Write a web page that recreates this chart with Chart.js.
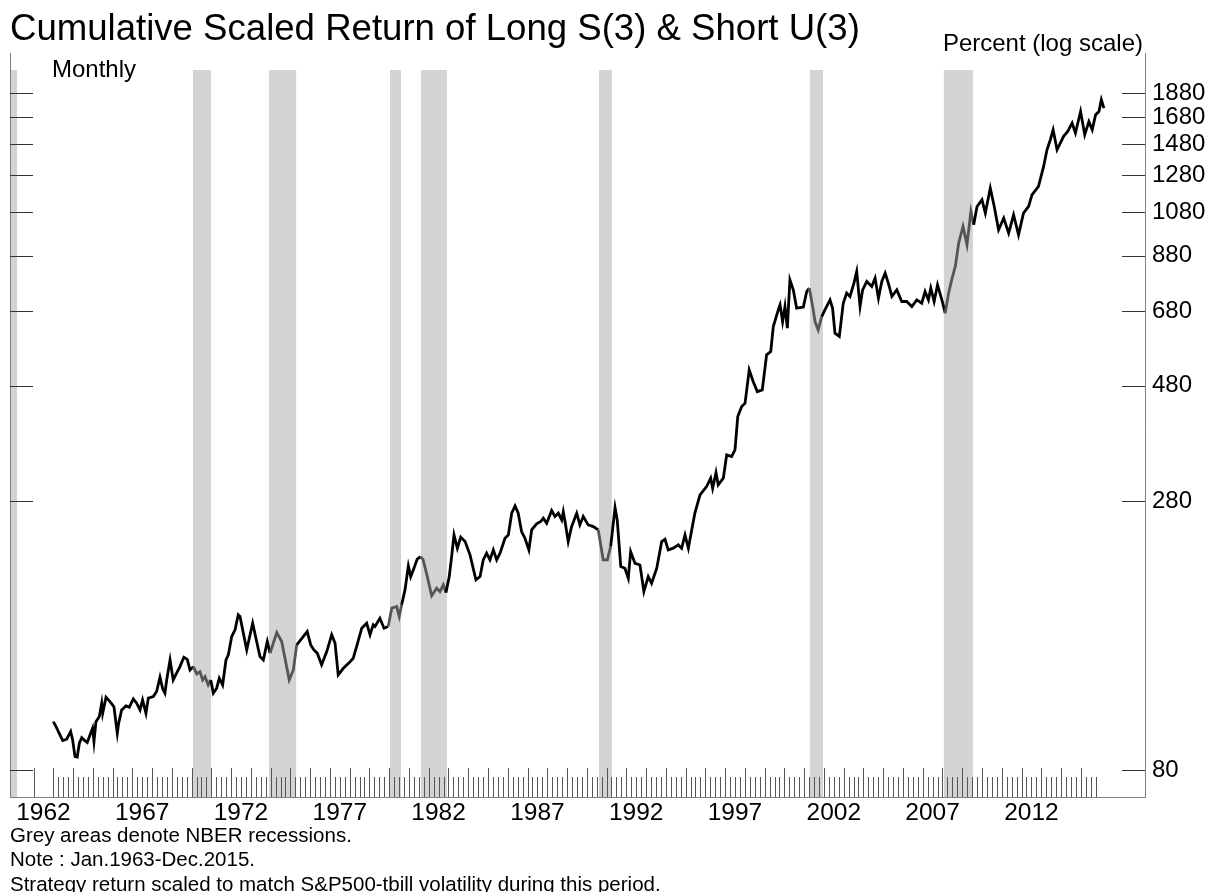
<!DOCTYPE html>
<html>
<head>
<meta charset="utf-8">
<title>Cumulative Scaled Return of Long S(3) & Short U(3)</title>
<script src="https://cdn.jsdelivr.net/npm/chart.js@4.4.0/dist/chart.umd.min.js"></script>
<style>
  body { margin: 0; background: #fff; font-family: 'Liberation Sans', Arial, sans-serif; }
  #wrap { position: relative; width: 1208px; height: 892px; overflow: hidden; }
  #myChart { position: absolute; left: 0; top: 0; }
  .txt { position: absolute; line-height: 1; white-space: nowrap; color: #000; }
</style>
</head>
<body>
<div id="wrap">
  <canvas id="myChart" width="1208" height="892"></canvas>
  <div class="txt" style="left:10px;top:10px;font-size:36.6px;">Cumulative Scaled Return of Long S(3) &amp; Short U(3)</div>
  <div class="txt" style="left:52px;top:57px;font-size:24px;">Monthly</div>
  <div class="txt" style="right:65px;top:31px;font-size:24px;">Percent (log scale)</div>
  <div class="txt" style="left:10px;top:825px;font-size:20.5px;">Grey areas denote NBER recessions.</div>
  <div class="txt" style="left:10px;top:849px;font-size:20.5px;">Note : Jan.1963-Dec.2015.</div>
  <div class="txt" style="left:10px;top:874px;font-size:20.5px;">Strategy return scaled to match S&amp;P500-tbill volatility during this period.</div>
</div>
<script>
// dates (decimal years) and cumulative return
const years = [
1963.00,1963.14,1963.30,1963.48,1963.68,1963.88,1963.98,1964.10,1964.21,1964.32,
1964.44,1964.60,1964.72,1964.89,1964.99,1965.06,1965.16,1965.33,1965.45,1965.50,
1965.67,1965.87,1966.07,1966.24,1966.31,1966.46,1966.68,1966.85,1967.05,1967.22,
1967.39,1967.52,1967.69,1967.81,1968.06,1968.23,1968.40,1968.54,1968.65,1968.74,
1968.91,1969.07,1969.24,1969.41,1969.61,1969.78,1969.92,1970.09,1970.26,1970.42,
1970.56,1970.68,1970.84,1970.97,1971.10,1971.27,1971.40,1971.57,1971.74,1971.86,
1972.03,1972.20,1972.36,1972.45,1972.79,1973.09,1973.46,1973.63,1973.83,1973.97,
1974.31,1974.56,1974.81,1974.94,1975.15,1975.32,1975.52,1975.85,1976.03,1976.19,
1976.36,1976.58,1976.84,1977.09,1977.26,1977.42,1977.68,1978.02,1978.18,1978.35,
1978.61,1978.86,1979.03,1979.19,1979.28,1979.53,1979.74,1979.95,1980.13,1980.38,
1980.51,1980.63,1980.80,1980.97,1981.09,1981.22,1981.42,1981.59,1981.72,1981.93,
1982.15,1982.40,1982.57,1982.74,1982.87,1983.04,1983.16,1983.28,1983.45,1983.62,
1983.84,1984.09,1984.39,1984.60,1984.76,1984.93,1985.10,1985.27,1985.44,1985.61,
1985.86,1986.03,1986.20,1986.37,1986.53,1986.70,1986.87,1987.07,1987.21,1987.46,
1987.67,1987.80,1987.97,1988.22,1988.39,1988.56,1988.73,1988.81,1988.90,1989.06,
1989.23,1989.49,1989.65,1989.82,1990.07,1990.33,1990.58,1990.83,1991.04,1991.21,
1991.43,1991.54,1991.72,1991.93,1992.10,1992.22,1992.44,1992.69,1992.89,1993.11,
1993.28,1993.54,1993.79,1993.96,1994.12,1994.38,1994.63,1994.80,1994.97,1995.14,
1995.31,1995.47,1995.73,1996.07,1996.27,1996.37,1996.54,1996.65,1996.91,1997.08,
1997.33,1997.50,1997.64,1997.84,1998.01,1998.22,1998.42,1998.63,1998.88,1999.10,
1999.31,1999.44,1999.69,1999.78,1999.91,2000.03,2000.15,2000.28,2000.45,2000.62,
2000.96,2001.13,2001.26,2001.46,2001.55,2001.71,2001.89,2002.05,2002.31,2002.44,
2002.56,2002.78,2002.98,2003.15,2003.32,2003.52,2003.66,2003.83,2003.96,2004.17,
2004.42,2004.59,2004.76,2004.93,2005.10,2005.26,2005.44,2005.69,2005.94,2006.19,
2006.45,2006.70,2006.95,2007.12,2007.29,2007.41,2007.58,2007.75,2007.97,2008.14,
2008.31,2008.48,2008.65,2008.82,2009.04,2009.24,2009.44,2009.58,2009.75,2010.00,
2010.17,2010.42,2010.62,2010.84,2011.10,2011.35,2011.60,2011.85,2012.10,2012.36,
2012.53,2012.86,2013.12,2013.29,2013.46,2013.60,2013.80,2014.13,2014.34,2014.56,
2014.73,2014.99,2015.20,2015.41,2015.58,2015.75,2015.92,2016.04,2016.17
];

const cumReturn = [
100.2,97.9,94.9,91.7,92.3,95.7,92.0,85.1,84.9,90.6,
93.0,91.7,90.9,94.9,97.2,91.3,100.2,102.6,109.2,104.2,
112.3,110.0,107.4,94.9,99.5,105.8,107.8,107.2,111.4,109.2,
105.8,110.9,104.2,111.8,112.6,115.3,123.3,116.6,114.4,121.7,
133.6,121.7,125.6,129.5,135.3,134.0,127.5,129.5,125.2,126.5,
121.7,123.6,118.9,121.7,114.4,117.1,122.7,118.9,133.6,136.8,
149.0,153.7,164.9,163.6,140.0,158.5,135.7,133.6,145.6,137.9,
151.8,145.6,129.5,121.7,127.5,143.3,146.7,152.5,143.3,140.0,
137.9,130.6,138.9,150.2,144.5,124.6,128.5,132.5,134.7,142.2,
154.9,158.6,150.2,157.4,156.2,162.3,154.9,156.2,170.1,171.4,
163.6,172.8,185.2,207.2,197.1,203.3,213.8,216.4,213.1,197.1,
180.2,186.7,183.8,189.6,182.9,197.1,216.4,239.4,225.0,236.9,
232.0,218.1,194.1,197.1,213.1,219.8,213.1,223.2,213.1,219.8,
235.7,239.4,264.9,274.0,264.9,243.1,235.7,223.2,245.0,252.0,
254.8,258.8,252.8,268.1,260.8,264.9,256.7,266.8,254.8,232.0,
248.8,264.9,250.8,260.8,250.8,248.8,245.0,213.1,213.1,226.9,
272.0,256.7,206.5,204.9,195.6,221.3,209.7,208.1,183.8,197.1,
191.0,204.9,232.0,234.5,223.2,225.0,228.5,225.0,239.4,225.0,
245.0,264.9,288.5,300.2,311.9,297.6,320.2,302.3,311.9,347.8,
345.0,355.9,415.8,435.7,442.6,516.9,489.5,467.0,470.8,554.5,
563.0,632.7,683.8,700.2,647.6,694.6,627.9,786.6,750.7,689.3,
692.6,744.9,756.9,683.8,647.6,622.9,662.8,683.8,716.5,688.9,
613.3,604.0,705.4,739.4,727.9,774.5,817.8,694.6,750.7,780.6,
762.5,793.0,722.2,780.6,811.6,774.5,727.9,750.7,711.0,711.0,
694.6,716.5,705.4,744.9,716.5,756.9,711.0,768.6,716.5,673.4,
739.4,790.4,837.2,933.7,1008.8,926.4,1081.9,1016.9,1107.6,1142.5,
1073.9,1206.7,1107.6,993.2,1049,977.8,1065.5,970.4,1073.9,1107.6,
1169,1216,1335,1443,1512,1584,1443,1536,1572,1634,
1560,1725,1548,1645,1584,1699,1725,1822,1752
];

// NBER recessions (start / end, decimal years)
const recStart = [1960.81, 1970.07, 1973.92, 1980.04, 1981.61, 1990.62, 2001.29, 2008.07];
const recEnd   = [1961.17, 1970.98, 1975.29, 1980.60, 1982.92, 1991.27, 2001.95, 2009.54];

// axis labels
const yearLabels = ['1962','1967','1972','1977','1982','1987','1992','1997','2002','2007','2012'];
const yTicks = [80, 280, 480, 680, 880, 1080, 1280, 1480, 1680, 1880];

// first and last year with tick marks on the time axis
const firstTickYear = 1962;
const lastTickYear = 2015;

function inRecession(x) {
    for (let i = 0; i < recStart.length; i++) {
        if (x >= recStart[i] && x <= recEnd[i]) return true;
    }
    return false;
}

Chart.defaults.font.family = "'Liberation Sans', Arial, sans-serif";
Chart.defaults.color = '#000';

// grey bars behind the line
const recessionBands = {
    id: 'recessionBands',
    beforeDatasetsDraw(chart) {
        const c = chart.ctx, a = chart.chartArea, xs = chart.scales.x;
        c.save();
        c.fillStyle = '#d3d3d3';
        for (let i = 0; i < recStart.length; i++) {
            let x0 = Math.max(xs.getPixelForValue(recStart[i]), a.left);
            let x1 = Math.min(xs.getPixelForValue(recEnd[i]), a.right);
            c.fillRect(x0, a.top + 17, x1 - x0, a.bottom - a.top - 17);
        }
        c.restore();
    }
};

// left frame line and the inward tick marks
const frameTicks = {
    id: 'frameTicks',
    afterDatasetsDraw(chart) {
        const c = chart.ctx, a = chart.chartArea, xs = chart.scales.x, ys = chart.scales.y;
        c.save();
        c.lineWidth = 1;
        c.strokeStyle = '#808080';
        c.beginPath();
        c.moveTo(a.left + 0.5, a.top);
        c.lineTo(a.left + 0.5, a.bottom);
        c.stroke();

        c.strokeStyle = '#333';
        c.beginPath();
        yTicks.forEach(v => {
            const py = Math.round(ys.getPixelForValue(v)) + 0.5;
            c.moveTo(a.left, py); c.lineTo(a.left + 23, py);
            c.moveTo(a.right - 23, py); c.lineTo(a.right, py);
        });
        c.stroke();

        c.strokeStyle = '#555';
        c.beginPath();
        for (let yr = firstTickYear; yr <= lastTickYear; yr++) {
            const px = Math.round(xs.getPixelForValue(yr)) + 0.5;
            c.moveTo(px, a.bottom); c.lineTo(px, a.bottom - 29);
            if (yr === firstTickYear) continue;
            for (let q = 1; q < 4; q++) {
                const qx = Math.round(xs.getPixelForValue(yr + q / 4)) + 0.5;
                c.moveTo(qx, a.bottom); c.lineTo(qx, a.bottom - 20);
            }
        }
        c.stroke();
        c.restore();
    }
};

const data = {
    datasets: [{
        label: 'Cumulative scaled return',
        data: years.map((yr, i) => ({ x: yr, y: cumReturn[i] })),
        borderColor: '#000',
        borderWidth: 2.8,
        pointRadius: 0,
        tension: 0,
        segment: {
            borderColor: ctx => inRecession((ctx.p0.parsed.x + ctx.p1.parsed.x) / 2) ? '#555' : '#000'
        }
    }]
};

var ctx = document.getElementById('myChart');

var myChart = new Chart(ctx, {
    type: 'line',
    data: data,
    plugins: [recessionBands, frameTicks],
    options: {
        responsive: false,
        animation: false,
        devicePixelRatio: 1,
        layout: { padding: { top: 53, left: 10, right: 0, bottom: 0 } },
        plugins: {
            legend: { display: false },
            tooltip: { enabled: false }
        },
        scales: {
            x: {
                type: 'linear',
                min: 1960.81,
                max: 2018.25,
                grid: { display: false, drawTicks: false },
                border: { display: true, color: '#808080', width: 1 },
                afterFit: scale => { scale.height = 95; },
                afterBuildTicks: scale => {
                    // labels sit in the middle of their year
                    scale.ticks = yearLabels.map(l => ({ value: Number(l) + 0.5 }));
                },
                ticks: {
                    autoSkip: false,
                    maxRotation: 0,
                    padding: 2,
                    font: { size: 24.5 },
                    callback: (v, i) => yearLabels[i]
                }
            },
            y: {
                type: 'logarithmic',
                position: 'right',
                min: 70.5,
                max: 2266,
                grid: { display: false, drawTicks: false },
                border: { display: true, color: '#808080', width: 1 },
                afterFit: scale => { scale.width = 63; },
                afterBuildTicks: scale => {
                    scale.ticks = yTicks.map(v => ({ value: v }));
                },
                ticks: {
                    padding: 7,
                    font: { size: 24 },
                    callback: v => String(v)
                }
            }
        }
    }
});
</script>
</body>
</html>
